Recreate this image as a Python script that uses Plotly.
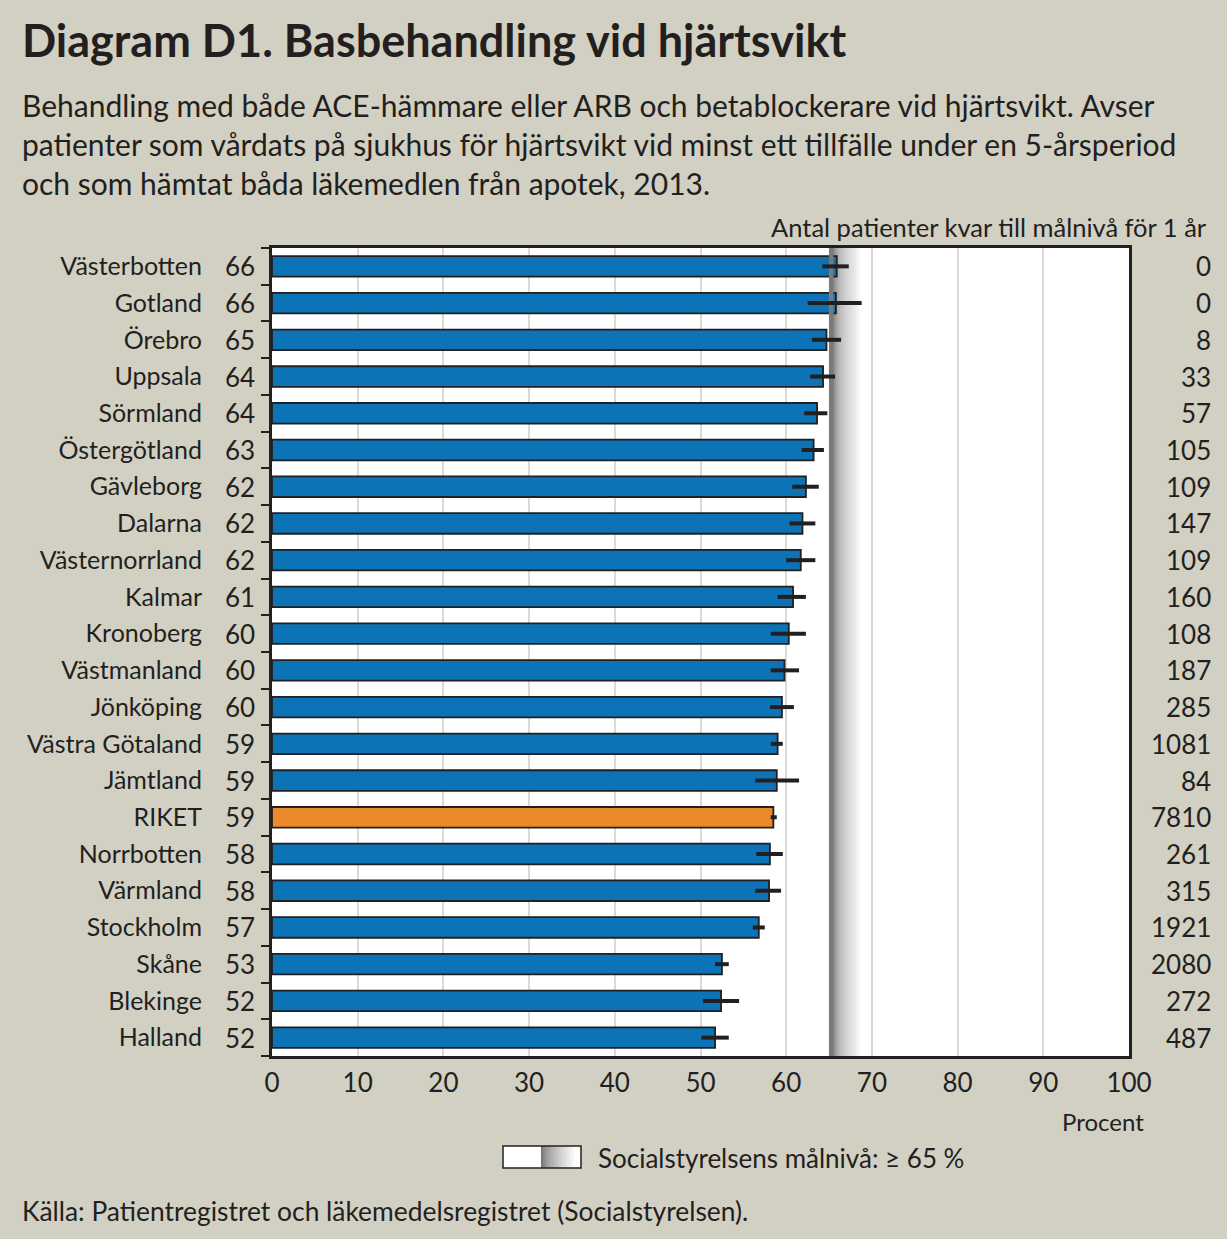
import plotly.graph_objects as go

regions = ["Västerbotten", "Gotland", "Örebro", "Uppsala", "Sörmland", "Östergötland",
           "Gävleborg", "Dalarna", "Västernorrland", "Kalmar", "Kronoberg", "Västmanland",
           "Jönköping", "Västra Götaland", "Jämtland", "RIKET", "Norrbotten", "Värmland",
           "Stockholm", "Skåne", "Blekinge", "Halland"]
values = [65.9, 65.8, 64.7, 64.3, 63.6, 63.2, 62.3, 61.9, 61.7, 60.8, 60.3, 59.8,
          59.5, 59.0, 58.9, 58.5, 58.1, 58.0, 56.8, 52.5, 52.4, 51.7]
ci_low = [64.2, 62.5, 63.0, 62.8, 62.1, 61.8, 60.7, 60.4, 60.0, 59.0, 58.2, 58.2,
          58.1, 58.2, 56.4, 58.2, 56.5, 56.4, 56.1, 51.7, 50.3, 50.1]
ci_high = [67.3, 68.8, 66.4, 65.7, 64.8, 64.4, 63.8, 63.4, 63.4, 62.3, 62.3, 61.5,
           60.9, 59.6, 61.5, 58.9, 59.6, 59.4, 57.5, 53.3, 54.5, 53.3]
value_labels = [66, 66, 65, 64, 64, 63, 62, 62, 62, 61, 60, 60, 60, 59, 59, 59, 58, 58, 57, 53, 52, 52]
patients_left = [0, 0, 8, 33, 57, 105, 109, 147, 109, 160, 108, 187, 285, 1081, 84, 7810,
                 261, 315, 1921, 2080, 272, 487]
target = 65
x_ticks = [0, 10, 20, 30, 40, 50, 60, 70, 80, 90, 100]

BG = "#d2d0c3"
DARK = "#231f20"
BLUE = "#0b73b6"
ORANGE = "#ea8a2a"
FONT = "Lato"

W, H = 1227, 1239
L, R, T, B = 272, 1129, 248, 1056


def px(x):
    return (x - L) / (R - L)


def py(y):
    return (B - y) / (B - T)


n = len(regions)
ypos = list(range(n))
colors = [ORANGE if r == "RIKET" else BLUE for r in regions]

fig = go.Figure()

fig.add_trace(go.Bar(
    x=values, y=ypos, orientation="h", width=0.56,
    marker=dict(color=colors, line=dict(color=DARK, width=1.8)),
    hoverinfo="skip", showlegend=False,
))

# target solid stripe (above bars)
fig.add_trace(go.Scatter(
    x=[target + 0.25, target + 0.25], y=[-0.5, n - 0.5], mode="lines",
    line=dict(color="#7a7a7a", width=4.5), hoverinfo="skip", showlegend=False,
))

# error bars
fig.add_trace(go.Scatter(
    x=values, y=ypos, mode="markers", marker=dict(size=0.1, color="rgba(0,0,0,0)"),
    error_x=dict(type="data", symmetric=False,
                 array=[h - v for h, v in zip(ci_high, values)],
                 arrayminus=[v - l for v, l in zip(values, ci_low)],
                 thickness=4, width=0, color=DARK),
    hoverinfo="skip", showlegend=False,
))

shapes = []
# gradient behind bars
steps = 30
g0, g1 = target + 0.45, target + 3.8
for i in range(steps):
    t = i / (steps - 1)
    c = int(135 + (255 - 135) * (t ** 0.75))
    shapes.append(dict(type="rect", xref="x", yref="paper",
                       x0=g0 + (g1 - g0) * i / steps, x1=g0 + (g1 - g0) * (i + 1) / steps + 0.02,
                       y0=0, y1=1, fillcolor=f"rgb({c},{c},{c})", line=dict(width=0),
                       layer="below"))

# legend box
lx0, lx1, ly0, ly1 = 503, 581, 1146, 1168
shapes.append(dict(type="rect", xref="paper", yref="paper", x0=px(lx0), x1=px(lx1),
                   y0=py(ly1), y1=py(ly0), fillcolor="white", line=dict(width=0)))
gs, ge = 541, 577
lsteps = 18
for i in range(lsteps):
    t = i / (lsteps - 1)
    c = int(120 + (255 - 120) * (t ** 0.7))
    shapes.append(dict(type="rect", xref="paper", yref="paper",
                       x0=px(gs + (ge - gs) * i / lsteps), x1=px(gs + (ge - gs) * (i + 1) / lsteps + 0.3),
                       y0=py(ly1), y1=py(ly0), fillcolor=f"rgb({c},{c},{c})", line=dict(width=0)))
shapes.append(dict(type="rect", xref="paper", yref="paper", x0=px(lx0), x1=px(lx1),
                   y0=py(ly1), y1=py(ly0), fillcolor="rgba(0,0,0,0)", line=dict(color=DARK, width=1.5)))

annotations = []
annotations.append(dict(text="<b>Diagram D1. Basbehandling vid hjärtsvikt</b>", xref="paper", yref="paper",
                        x=px(20), y=py(40), xanchor="left", yanchor="middle", showarrow=False,
                        font=dict(family=FONT, size=45, color=DARK, weight=900)))
annotations.append(dict(
    text="Behandling med både ACE-hämmare eller ARB och betablockerare vid hjärtsvikt. Avser<br>"
         "patienter som vårdats på sjukhus för hjärtsvikt vid minst ett tillfälle under en 5-årsperiod<br>"
         "och som hämtat båda läkemedlen från apotek, 2013.",
    xref="paper", yref="paper", x=px(20), y=py(144), xanchor="left", yanchor="middle", align="left",
    showarrow=False, font=dict(family=FONT, size=30, color=DARK)))
annotations.append(dict(text="Antal patienter kvar till målnivå för 1 år", xref="paper", yref="paper",
                        x=px(1209), y=py(227), xanchor="right", yanchor="middle", showarrow=False,
                        font=dict(family=FONT, size=25.5, color=DARK)))
for i in range(n):
    annotations.append(dict(text=str(value_labels[i]), xref="paper", yref="y", x=px(257), y=i,
                            xanchor="right", yanchor="middle", showarrow=False,
                            font=dict(family=FONT, size=26, color=DARK)))
    annotations.append(dict(text=str(patients_left[i]), xref="paper", yref="y", x=px(1213), y=i,
                            xanchor="right", yanchor="middle", showarrow=False,
                            font=dict(family=FONT, size=26, color=DARK)))
annotations.append(dict(text="Procent", xref="paper", yref="paper", x=px(1103), y=py(1121),
                        xanchor="center", yanchor="middle", showarrow=False,
                        font=dict(family=FONT, size=24, color=DARK)))
annotations.append(dict(text="Socialstyrelsens målnivå: ≥ 65 %", xref="paper", yref="paper",
                        x=px(596), y=py(1158), xanchor="left", yanchor="middle", showarrow=False,
                        font=dict(family=FONT, size=26, color=DARK)))
annotations.append(dict(text="Källa: Patientregistret och läkemedelsregistret (Socialstyrelsen).",
                        xref="paper", yref="paper", x=px(20), y=py(1211), xanchor="left",
                        yanchor="middle", showarrow=False, font=dict(family=FONT, size=26.4, color=DARK)))

fig.update_layout(
    width=W, height=H,
    margin=dict(l=L, r=W - R, t=T, b=H - B, pad=0),
    paper_bgcolor=BG, plot_bgcolor="white",
    bargap=0.44,
    shapes=shapes, annotations=annotations,
    font=dict(family=FONT, color=DARK),
    xaxis=dict(range=[0, 100], tickvals=x_ticks, ticktext=[str(v) for v in x_ticks],
               showgrid=True, gridcolor="#dcdbd2", gridwidth=2, zeroline=False,
               showline=True, mirror=True, linecolor=DARK, linewidth=3,
               ticks="", tickfont=dict(family=FONT, size=26, color=DARK), ticklabelstandoff=2,
               fixedrange=True),
    yaxis=dict(range=[n - 0.5, -0.5], tickvals=ypos, ticktext=regions,
               showgrid=False, zeroline=False, showline=True, mirror=True,
               linecolor=DARK, linewidth=3, ticks="", ticklabelstandoff=62,
               tickfont=dict(family=FONT, size=25, color=DARK),
               minor=dict(tickvals=[i - 0.5 for i in range(n + 1)], ticks="outside",
                          ticklen=8, tickwidth=2, tickcolor=DARK, showgrid=False),
               fixedrange=True),
)

fig.write_html("out.html")
